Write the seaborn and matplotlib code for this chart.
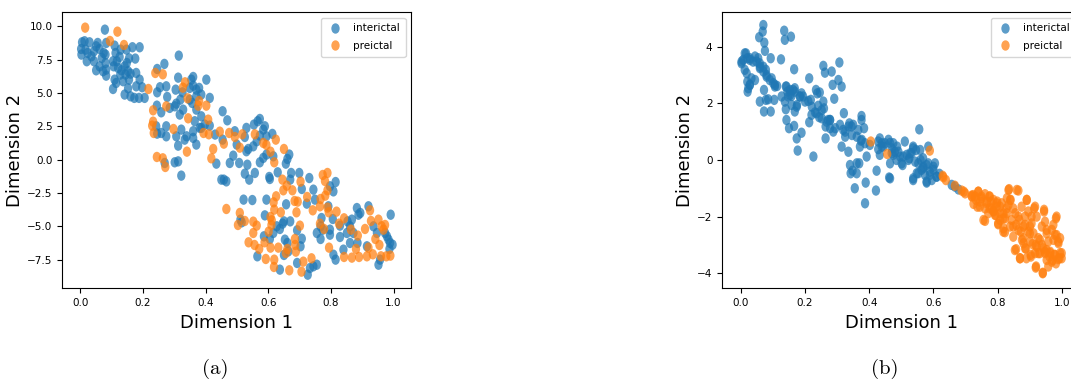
import numpy as np
import pandas as pd
import matplotlib
matplotlib.use("Agg")
import matplotlib.pyplot as plt
from matplotlib.path import Path
from matplotlib.transforms import Affine2D
from matplotlib.ticker import MultipleLocator
from matplotlib.lines import Line2D
import seaborn as sns

# ---------------- (a) embedding: interictal ----------------
a_inter_x = [0.078, 0.005, 0.013, 0.029, 0.002, 0.003, 0.016, 0.023, 0.020, 0.035, 0.043, 0.050,
             0.055, 0.061, 0.043, 0.050, 0.061, 0.068, 0.074, 0.082, 0.080, 0.080, 0.082, 0.082,
             0.072, 0.104, 0.106, 0.109, 0.112, 0.116, 0.120, 0.125, 0.127, 0.131, 0.141, 0.148,
             0.155, 0.147, 0.128, 0.152, 0.166, 0.189, 0.175, 0.155, 0.160, 0.178, 0.189, 0.109,
             0.104, 0.136, 0.141, 0.152, 0.160, 0.172, 0.178, 0.187, 0.197, 0.205, 0.114, 0.144,
             0.314, 0.268, 0.245, 0.245, 0.254, 0.274, 0.304, 0.312, 0.277, 0.244, 0.258, 0.285,
             0.301, 0.306, 0.319, 0.326, 0.349, 0.354, 0.360, 0.360, 0.370, 0.379, 0.370, 0.386,
             0.402, 0.413, 0.349, 0.357, 0.370, 0.386, 0.381, 0.365, 0.360, 0.339, 0.322, 0.317,
             0.328, 0.312, 0.306, 0.274, 0.258, 0.245, 0.242, 0.274, 0.269, 0.301, 0.312, 0.322,
             0.333, 0.360, 0.370, 0.386, 0.397, 0.413, 0.430, 0.434, 0.454, 0.469, 0.454, 0.450,
             0.458, 0.466, 0.477, 0.488, 0.493, 0.499, 0.507, 0.525, 0.530, 0.530, 0.536, 0.533,
             0.525, 0.539, 0.557, 0.554, 0.552, 0.563, 0.566, 0.573, 0.584, 0.589, 0.594, 0.573,
             0.573, 0.584, 0.594, 0.613, 0.616, 0.603, 0.605, 0.630, 0.656, 0.667, 0.661, 0.673,
             0.670, 0.699, 0.707, 0.731, 0.744, 0.749, 0.723, 0.657, 0.594, 0.549, 0.521, 0.511,
             0.515, 0.565, 0.586, 0.589, 0.605, 0.616, 0.627, 0.637, 0.646, 0.650, 0.653, 0.661,
             0.664, 0.637, 0.650, 0.670, 0.692, 0.707, 0.703, 0.692, 0.726, 0.733, 0.744, 0.755,
             0.755, 0.767, 0.767, 0.774, 0.770, 0.792, 0.797, 0.808, 0.815, 0.797, 0.806, 0.797,
             0.808, 0.815, 0.829, 0.829, 0.840, 0.851, 0.853, 0.861, 0.867, 0.861, 0.872, 0.883,
             0.888, 0.894, 0.885, 0.915, 0.920, 0.936, 0.947, 0.952, 0.957, 0.973, 0.979, 0.984,
             0.989, 0.997, 0.991, 0.987]
a_inter_y = [9.75, 8.80, 8.88, 8.80, 8.30, 7.88, 8.25, 8.00, 7.38, 7.75, 8.13, 8.50,
             8.75, 8.30, 7.38, 6.70, 7.00, 7.63, 8.00, 8.75, 7.88, 7.25, 6.75, 6.30,
             6.63, 7.38, 7.00, 8.55, 8.00, 7.38, 6.88, 7.70, 6.38, 6.70, 7.00, 7.25,
             7.60, 8.25, 8.25, 6.63, 8.43, 8.43, 7.58, 6.00, 6.45, 6.50, 6.00, 6.00,
             5.30, 5.88, 4.88, 5.35, 4.75, 4.63, 5.50, 4.63, 5.43, 4.63, 5.75, 6.38,
             7.80, 7.18, 6.80, 5.05, 5.43, 5.50, 5.25, 6.15, 4.70, 4.05, 3.55, 3.88,
             4.00, 4.20, 4.50, 5.05, 5.38, 6.00, 6.20, 5.55, 5.25, 5.38, 4.75, 4.88,
             6.00, 4.63, 4.50, 4.25, 3.75, 3.25, 2.38, 2.88, 2.13, 1.75, 2.25, 3.38,
             3.75, 1.05, 1.75, 1.75, 2.00, 1.95, 2.50, 2.50, -0.25, -0.20, -0.13, -1.20,
             1.50, 1.63, 1.13, 2.38, 2.63, 2.55, 1.88, -0.30, 3.63, 2.95, 1.50, -1.50,
             -1.50, -1.63, -0.25, 0.30, 2.13, 1.13, -0.25, 1.70, 2.38, 0.63, 0.80, -0.38,
             -1.05, -1.50, -1.00, 2.63, 1.00, 1.38, 2.88, 3.05, 2.25, 2.50, 1.75, 1.80,
             -0.20, 0.13, 0.38, 1.93, 0.25, -1.30, -1.45, -0.95, -0.30, 0.38, 0.05, -1.00,
             -1.50, -1.00, -2.20, -1.38, -2.25, -3.00, -3.30, -3.35, -3.00, -3.03, -3.00, -4.50,
             -4.70, -7.25, -5.75, -4.18, -5.95, -5.50, -5.00, -5.20, -4.80, -4.63, -6.00, -6.25,
             -6.88, -8.25, -7.15, -4.63, -5.30, -5.93, -6.50, -7.75, -8.63, -8.13, -8.00, -7.88,
             -5.50, -5.00, -5.95, -5.25, -4.38, -3.50, -2.00, -2.38, -1.68, -5.63, -4.45, -5.25,
             -7.13, -7.50, -5.80, -4.95, -6.75, -5.50, -4.63, -5.00, -4.50, -6.25, -5.50, -3.63,
             -4.13, -4.00, -6.25, -6.50, -3.50, -5.00, -5.50, -7.88, -7.50, -5.50, -5.75, -6.00,
             -6.25, -6.38, -4.13, -6.70]

# ---------------- (a) embedding: preictal ----------------
a_pre_x = [0.015, 0.118, 0.094, 0.139, 0.217, 0.239, 0.263, 0.334, 0.327, 0.342, 0.232, 0.232,
           0.274, 0.379, 0.402, 0.376, 0.344, 0.229, 0.234, 0.297, 0.340, 0.244, 0.263, 0.271,
           0.408, 0.393, 0.410, 0.418, 0.424, 0.445, 0.458, 0.475, 0.493, 0.509, 0.517, 0.557,
           0.584, 0.594, 0.607, 0.624, 0.650, 0.619, 0.645, 0.648, 0.677, 0.659, 0.703, 0.694,
           0.684, 0.617, 0.619, 0.466, 0.509, 0.503, 0.525, 0.552, 0.563, 0.552, 0.601, 0.607,
           0.610, 0.640, 0.690, 0.701, 0.724, 0.742, 0.765, 0.774, 0.789, 0.781, 0.789, 0.782,
           0.765, 0.778, 0.789, 0.793, 0.818, 0.826, 0.842, 0.864, 0.886, 0.880, 0.842, 0.867,
           0.890, 0.909, 0.925, 0.928, 0.942, 0.955, 0.920, 0.915, 0.934, 0.960, 0.990, 0.977,
           0.952, 0.973, 0.968, 0.962, 0.794, 0.738, 0.712, 0.706, 0.667, 0.618, 0.592, 0.619,
           0.571, 0.537, 0.556, 0.588, 0.607, 0.632, 0.661, 0.685, 0.686, 0.688, 0.656, 0.611,
           0.625, 0.767]
a_pre_y = [9.90, 9.60, 8.90, 8.60, 5.30, 6.50, 6.40, 5.80, 5.40, 4.60, 3.70, 2.85,
           4.00, 4.40, 4.05, 4.05, 3.10, 2.55, 2.00, 2.30, 0.60, 0.20, 0.10, -0.55,
           3.00, 2.00, 1.90, 0.10, 0.80, 2.10, 1.20, 2.00, 1.70, 0.90, 1.90, 1.90,
           1.25, 1.10, 0.60, 1.50, 0.80, -0.20, -1.50, -2.30, -2.30, -1.95, -1.65, -3.15,
           -3.10, -3.20, -3.75, -3.70, -4.00, -4.90, -4.60, -4.65, -4.95, -5.50, -5.40, -4.30,
           -4.90, -3.95, -3.95, -4.95, -2.80, -3.80, -3.50, -1.15, -1.00, -1.60, -2.30, -2.70,
           -4.80, -5.20, -3.60, -3.95, -3.90, -4.80, -4.40, -5.25, -5.70, -6.70, -7.30, -7.35,
           -7.30, -5.20, -3.80, -4.60, -5.95, -6.40, -6.60, -7.25, -7.10, -7.25, -7.20, -7.25,
           -4.50, -4.90, -5.25, -5.00, -6.60, -7.40, -7.65, -8.40, -8.30, -8.05, -7.45, -7.50,
           -6.70, -6.20, -6.40, -6.20, -6.60, -6.60, -6.70, -5.95, -6.40, -6.90, -7.00, -4.55,
           -2.75, -2.95]

# ---------------- (b) embedding: interictal ----------------
b_inter_x = [0.070, 0.068, 0.057, 0.073, 0.075, 0.135, 0.137, 0.156, 0.002, 0.016, 0.020, 0.007,
             0.028, 0.038, 0.044, 0.054, 0.059, 0.012, 0.020, 0.023, 0.033, 0.028, 0.044, 0.059,
             0.070, 0.078, 0.080, 0.093, 0.090, 0.101, 0.106, 0.113, 0.072, 0.059, 0.072, 0.078,
             0.085, 0.093, 0.104, 0.125, 0.127, 0.140, 0.145, 0.147, 0.153, 0.158, 0.163, 0.168,
             0.166, 0.140, 0.142, 0.150, 0.166, 0.168, 0.175, 0.184, 0.189, 0.194, 0.174, 0.177,
             0.189, 0.210, 0.213, 0.218, 0.220, 0.213, 0.226, 0.231, 0.234, 0.238, 0.246, 0.241,
             0.244, 0.252, 0.257, 0.259, 0.264, 0.264, 0.257, 0.262, 0.272, 0.278, 0.283, 0.286,
             0.291, 0.278, 0.288, 0.304, 0.307, 0.314, 0.314, 0.321, 0.319, 0.325, 0.338, 0.345,
             0.350, 0.335, 0.340, 0.342, 0.348, 0.355, 0.361, 0.361, 0.369, 0.371, 0.374, 0.376,
             0.376, 0.384, 0.389, 0.387, 0.392, 0.402, 0.421, 0.423, 0.428, 0.433, 0.433, 0.439,
             0.444, 0.460, 0.462, 0.465, 0.470, 0.475, 0.480, 0.487, 0.496, 0.504, 0.511, 0.517,
             0.525, 0.532, 0.537, 0.537, 0.546, 0.548, 0.553, 0.556, 0.560, 0.563, 0.569, 0.574,
             0.579, 0.579, 0.584, 0.589, 0.595, 0.600, 0.605, 0.610, 0.619, 0.657, 0.667, 0.678,
             0.475, 0.491, 0.506, 0.501, 0.522, 0.537, 0.543, 0.537, 0.553, 0.568, 0.579, 0.589,
             0.600, 0.610, 0.568, 0.584, 0.465, 0.485, 0.559, 0.528,
             0.012, 0.002, 0.028, 0.049, 0.060, 0.070, 0.080, 0.096, 0.106, 0.018, 0.028, 0.021,
             0.142, 0.153, 0.168, 0.184, 0.137, 0.158, 0.174, 0.200, 0.221, 0.236, 0.252, 0.267,
             0.278, 0.294, 0.309, 0.325, 0.335, 0.346, 0.361, 0.366, 0.377, 0.387, 0.428, 0.439,
             0.449, 0.465, 0.470]
b_inter_y = [4.76, 4.53, 4.33, 4.14, 3.85, 4.56, 4.24, 4.35, 3.41, 3.76, 3.59, 3.53,
             3.53, 3.47, 3.65, 3.59, 3.41, 3.18, 2.76, 2.53, 2.88, 2.65, 2.82, 3.24,
             3.29, 3.18, 3.00, 3.59, 2.82, 2.71, 2.59, 2.61, 2.47, 2.06, 1.71, 2.12,
             2.14, 1.71, 2.12, 3.55, 2.24, 2.59, 2.41, 2.24, 2.47, 2.26, 2.47, 2.53,
             3.20, 1.79, 1.41, 1.12, 1.20, 1.71, 1.94, 2.24, 2.35, 2.24, 0.76, 0.33,
             0.96, 2.08, 2.88, 2.12, 1.59, 1.33, 0.12, 1.68, 2.47, 2.35, 2.38, 1.91,
             1.51, 1.76, 2.06, 1.82, 1.18, 0.76, 3.32, 3.08, 1.41, 1.12, 3.12, 2.65,
             2.16, 1.41, 1.00, 2.82, 3.44, 2.59, 0.47, 1.65, 1.06, 0.82, 1.29, 1.18,
             1.24, 0.29, -0.18, -0.47, -0.38, -1.00, -0.12, -0.47, -0.12, 0.47, 0.68, 1.55,
             1.41, 1.12, -0.80, -1.53, 0.12, 0.53, -1.08, -0.38, 0.38, 0.76, 0.18, 0.59,
             0.47, 0.71, -0.62, -0.12, 0.24, 0.59, 0.29, 0.47, 0.12, -0.18, 0.65, 0.18,
             0.06, 0.24, 0.47, -0.71, 0.35, -0.47, -0.12, 1.08, 0.00, -0.35, -0.24, -0.53,
             -0.18, -0.80, 0.47, -0.41, -0.71, -0.24, -0.12, -0.59, -0.49, -0.88, -0.94, -1.04,
             0.18, 0.29, 0.12, -0.12, 0.00, 0.41, -0.06, -0.65, -0.47, -0.29, -0.76, -0.53,
             -0.35, -0.59, 0.06, -0.12, -0.65, 0.00, 0.35, 0.24,
             3.76, 3.47, 3.59, 3.47, 3.29, 3.12, 2.94, 2.88, 2.65, 3.06, 2.65, 2.41,
             2.59, 2.29, 2.41, 2.24, 2.06, 1.94, 1.88, 2.06, 1.88, 1.65, 1.47, 1.35,
             1.41, 1.12, 1.24, 1.00, 1.18, 0.88, 0.82, 1.06, 0.71, 0.59, 0.65, 0.47,
             0.59, 0.60, 0.41]

# ---------------- (b) embedding: preictal ----------------
b_pre_x = [0.405, 0.456, 0.589, 0.629, 0.639, 0.688, 0.699, 0.720, 0.730, 0.740, 0.737, 0.745,
           0.750, 0.756, 0.761, 0.766, 0.776, 0.771, 0.782, 0.787, 0.792, 0.799, 0.802, 0.808,
           0.813, 0.818, 0.823, 0.828, 0.834, 0.839, 0.839, 0.844, 0.849, 0.855, 0.858, 0.865,
           0.865, 0.868, 0.870, 0.876, 0.881, 0.886, 0.888, 0.891, 0.896, 0.901, 0.903, 0.906,
           0.912, 0.917, 0.920, 0.922, 0.927, 0.932, 0.938, 0.941, 0.943, 0.945, 0.948, 0.953,
           0.958, 0.964, 0.969, 0.972, 0.974, 0.979, 0.982, 0.984, 0.990, 0.993, 1.000, 0.995,
           0.725, 0.787, 0.797, 0.808, 0.818, 0.849, 0.881, 0.901, 0.953, 0.917,
           0.631, 0.667, 0.695, 0.719, 0.740, 0.733, 0.750, 0.761, 0.774, 0.745, 0.761, 0.776,
           0.787, 0.797, 0.808, 0.802, 0.818, 0.823, 0.829, 0.836, 0.841, 0.849, 0.860, 0.865,
           0.858, 0.872, 0.854, 0.870, 0.886, 0.880, 0.886, 0.891, 0.896, 0.906, 0.914, 0.922,
           0.919, 0.927, 0.932, 0.919, 0.941, 0.945, 0.948, 0.953, 0.958, 0.964, 0.969, 0.974,
           0.979, 0.984, 0.989, 0.995, 1.000, 0.989, 0.982, 0.829, 0.834, 0.875, 0.901, 0.909,
           0.938, 0.948, 0.962, 0.977, 0.953, 0.904, 0.890, 0.818, 0.794, 0.779, 0.766, 0.724]
b_pre_y = [0.65, 0.21, 0.33, -0.56, -0.71, -1.08, -1.18, -1.29, -1.29, -1.12, -1.65, -1.47,
           -1.29, -2.12, -1.71, -1.53, -1.29, -1.88, -1.71, -1.79, -1.94, -1.47, -2.24, -1.88,
           -1.53, -2.53, -2.06, -1.71, -1.06, -1.41, -2.35, -2.12, -2.71, -1.88, -3.15, -1.08,
           -2.47, -2.12, -3.47, -2.82, -2.35, -2.00, -3.12, -1.41, -2.53, -2.88, -3.35, -2.00,
           -2.59, -1.65, -3.76, -3.06, -3.29, -2.82, -2.35, -4.00, -3.12, -1.82, -3.29, -2.59,
           -3.76, -3.29, -2.47, -3.53, -2.82, -3.35, -2.06, -2.65, -2.94, -3.47, -3.29, -2.76,
           -1.55, -1.41, -1.65, -2.12, -1.88, -2.35, -2.94, -2.35, -3.18, -3.29,
           -0.61, -0.91, -1.12, -1.26, -1.12, -1.41, -1.35, -1.21, -1.29, -1.65, -2.15, -1.71,
           -1.82, -1.53, -1.65, -2.27, -2.06, -2.55, -1.88, -1.03, -1.41, -1.71, -1.06, -2.00,
           -2.29, -2.53, -3.18, -3.47, -3.12, -2.76, -2.29, -1.41, -1.82, -2.24, -1.71, -2.00,
           -3.00, -2.76, -3.29, -3.80, -3.98, -1.76, -2.18, -2.47, -2.88, -3.24, -3.59, -2.29,
           -2.65, -2.00, -2.88, -3.29, -3.47, -3.50, -3.65, -1.35, -1.59, -1.65, -2.59, -2.97,
           -3.00, -3.24, -3.41, -3.35, -3.53, -3.41, -3.47, -2.41, -1.94, -1.47, -1.47, -1.24]

classes = ["interictal", "preictal"]
palette = {"interictal": "#1f77b4", "preictal": "#ff7f0e"}


def build_frame(inter_x, inter_y, pre_x, pre_y):
    return pd.DataFrame({
        "dim1": list(inter_x) + list(pre_x),
        "dim2": list(inter_y) + list(pre_y),
        "state": [classes[0]] * len(inter_x) + [classes[1]] * len(pre_x),
    })


df_a = build_frame(a_inter_x, a_inter_y, a_pre_x, a_pre_y)
df_b = build_frame(b_inter_x, b_inter_y, b_pre_x, b_pre_y)

# slightly narrow elliptical marker
ellipse = Path.unit_circle().transformed(Affine2D().scale(0.8, 1.0))
marker_area = 56
marker_alpha = 0.72

plt.rcParams["font.family"] = ["DejaVu Sans"]

fig = plt.figure(figsize=(10.71, 3.81), dpi=100)
ax_a = fig.add_axes([0.0582, 0.2433, 0.3253, 0.7244])
ax_b = fig.add_axes([0.6744, 0.2433, 0.3343, 0.7244])

panels = [
    (ax_a, df_a, (-0.058, 1.055), (-9.65, 11.05), 2.5),
    (ax_b, df_b, (-0.058, 1.058), (-4.53, 5.21), 2.0),
]

for ax, df, xlim, ylim, ystep in panels:
    sns.scatterplot(data=df, x="dim1", y="dim2", hue="state", hue_order=classes,
                    palette=palette, marker=ellipse, s=marker_area, alpha=marker_alpha,
                    linewidth=0, ax=ax, legend=False)
    handles = [Line2D([], [], linestyle="", marker=ellipse,
                      markersize=np.sqrt(marker_area), markeredgewidth=0,
                      color=palette[c], alpha=marker_alpha) for c in classes]
    ax.legend(handles, classes, loc="upper right", fontsize=7.5, frameon=True,
              handletextpad=0.9, borderpad=0.55, labelspacing=0.75,
              handlelength=1.6)
    ax.set_xlim(*xlim)
    ax.set_ylim(*ylim)
    ax.yaxis.set_major_locator(MultipleLocator(ystep))
    ax.xaxis.set_major_locator(MultipleLocator(0.2))
    ax.tick_params(labelsize=7.5)
    ax.set_xlabel("Dimension 1", fontsize=13)
    ax.set_ylabel("Dimension 2", fontsize=13, labelpad=2)

fig.text(215 / 1071, 1 - 369 / 381, "(a)", ha="center", va="center",
         family="cmr10", fontsize=15)
fig.text(885 / 1071, 1 - 369 / 381, "(b)", ha="center", va="center",
         family="cmr10", fontsize=15)

fig.savefig("out.png", dpi=100)
